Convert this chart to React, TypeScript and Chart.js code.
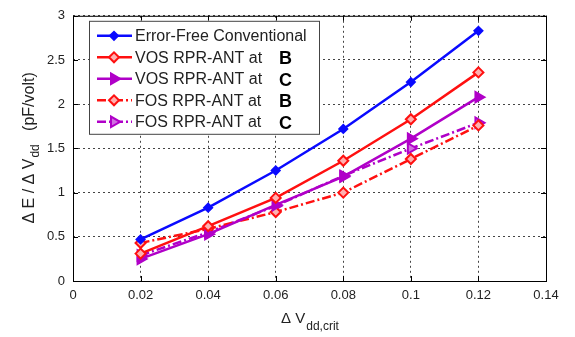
import React, { useEffect, useRef } from 'react';
import { Chart, registerables } from 'chart.js';
import { drawPoint } from 'chart.js/helpers';
Chart.register(...registerables);

const xValues = [0.02, 0.04, 0.06, 0.08, 0.1, 0.12];
const errorFree = [0.47, 0.83, 1.25, 1.72, 2.25, 2.83];
const vosB = [0.31, 0.62, 0.94, 1.36, 1.83, 2.36];
const vosC = [0.25, 0.53, 0.86, 1.18, 1.61, 2.08];
const fosB = [0.43, 0.59, 0.78, 1.0, 1.38, 1.76];
const fosC = [0.29, 0.55, 0.85, 1.19, 1.5, 1.79];
const seriesNames = ['Error-Free Conventional', 'VOS RPR-ANT at', 'VOS RPR-ANT at', 'FOS RPR-ANT at', 'FOS RPR-ANT at'];
const seriesTags = ['', 'B', 'C', 'B', 'C'];
const xTicks = [0, 0.02, 0.04, 0.06, 0.08, 0.1, 0.12, 0.14];
const yTicks = [0, 0.5, 1, 1.5, 2, 2.5, 3];

const FONT = '"Liberation Sans", Arial, sans-serif';
const BLUE = '#0a0aff';
const RED = '#ff1010';
const PURPLE = '#b000c8';
const DASHDOT = [9, 3, 2, 3];

const seriesValues = [errorFree, vosB, vosC, fosB, fosC];
const styles = [
  { color: BLUE, dash: [], point: 'rectRot', radius: 4, fill: BLUE, rot: 0 },
  { color: RED, dash: [], point: 'rectRot', radius: 5, fill: '#ffb0b0', rot: 0 },
  { color: PURPLE, dash: [], point: 'triangle', radius: 6, fill: PURPLE, rot: 90 },
  { color: RED, dash: DASHDOT, point: 'rectRot', radius: 5, fill: '#ffb0b0', rot: 0 },
  { color: PURPLE, dash: DASHDOT, point: 'triangle', radius: 6, fill: '#d070e0', rot: 90 },
];

const framePlugin = {
  id: 'frame',
  afterDatasetsDraw(chart: any) {
    const { ctx, chartArea: a } = chart;
    ctx.save();
    ctx.strokeStyle = '#000';
    ctx.lineWidth = 1;
    ctx.setLineDash([]);
    ctx.strokeRect(a.left + 0.5, a.top + 0.5, a.right - a.left, a.bottom - a.top);
    const xs = chart.scales.x;
    const ys = chart.scales.y;
    ctx.beginPath();
    xTicks.forEach((v) => {
      const px = Math.round(xs.getPixelForValue(v)) + 0.5;
      ctx.moveTo(px, a.bottom); ctx.lineTo(px, a.bottom - 5);
      ctx.moveTo(px, a.top); ctx.lineTo(px, a.top + 5);
    });
    yTicks.forEach((v) => {
      const py = Math.round(ys.getPixelForValue(v)) + 0.5;
      ctx.moveTo(a.left, py); ctx.lineTo(a.left + 5, py);
      ctx.moveTo(a.right, py); ctx.lineTo(a.right - 5, py);
    });
    ctx.stroke();

    // axis titles
    ctx.fillStyle = '#222';
    ctx.textBaseline = 'alphabetic';
    const main = 'Δ V';
    const sub = 'dd,crit';
    ctx.font = `15px ${FONT}`;
    const wm = ctx.measureText(main).width;
    ctx.font = `12px ${FONT}`;
    const ws = ctx.measureText(sub).width;
    const cx = (a.left + a.right) / 2;
    const sx = cx - (wm + ws) / 2;
    ctx.font = `15px ${FONT}`;
    ctx.textAlign = 'left';
    ctx.fillText(main, sx, a.bottom + 42);
    ctx.font = `12px ${FONT}`;
    ctx.fillText(sub, sx + wm + 1, a.bottom + 49);

    ctx.save();
    ctx.translate(a.left - 44, (a.top + a.bottom) / 2);
    ctx.rotate(-Math.PI / 2);
    const p1 = 'Δ E / Δ V';
    const p2 = 'dd';
    const p3 = '   (pF/volt)';
    ctx.font = `16px ${FONT}`;
    const w1 = ctx.measureText(p1).width;
    const w3 = ctx.measureText(p3).width;
    ctx.font = `12px ${FONT}`;
    const w2 = ctx.measureText(p2).width;
    const tx = -(w1 + w2 + w3) / 2;
    ctx.font = `16px ${FONT}`;
    ctx.fillText(p1, tx, 5);
    ctx.font = `12px ${FONT}`;
    ctx.fillText(p2, tx + w1 + 1, 10);
    ctx.font = `16px ${FONT}`;
    ctx.fillText(p3, tx + w1 + w2 + 1, 5);
    ctx.restore();

    // legend
    const lx = a.left + 16;
    const ly = a.top + 5;
    const lw = 230;
    const lh = 113;
    ctx.fillStyle = '#fff';
    ctx.fillRect(lx, ly, lw, lh);
    ctx.strokeStyle = '#444';
    ctx.lineWidth = 1;
    ctx.strokeRect(lx + 0.5, ly + 0.5, lw, lh);
    seriesNames.forEach((name, i) => {
      const st = styles[i];
      const y = ly + 15 + i * 21.5;
      ctx.strokeStyle = st.color;
      ctx.lineWidth = 2.5;
      ctx.setLineDash(st.dash);
      ctx.beginPath();
      ctx.moveTo(lx + 8, y);
      ctx.lineTo(lx + 43, y);
      ctx.stroke();
      ctx.setLineDash([]);
      ctx.fillStyle = st.fill;
      ctx.lineWidth = 2;
      drawPoint(ctx, { pointStyle: st.point, rotation: st.rot, radius: st.radius, borderWidth: 2 } as any, lx + 25, y);
      ctx.fillStyle = '#222';
      ctx.font = `16px ${FONT}`;
      ctx.textAlign = 'left';
      ctx.textBaseline = 'middle';
      ctx.fillText(name, lx + 46, y + 1);
      if (seriesTags[i]) {
        ctx.fillStyle = '#000';
        ctx.font = `bold 18px ${FONT}`;
        ctx.fillText(seriesTags[i], lx + 190, y + 2);
      }
    });
    ctx.restore();
  },
};

export default function App() {
  const ref = useRef<HTMLCanvasElement>(null);
  useEffect(() => {
    if (!ref.current) return;
    const datasets = seriesValues.map((vals, i) => {
      const st = styles[i];
      return {
        label: seriesNames[i] + (seriesTags[i] ? ' ' + seriesTags[i] : ''),
        data: xValues.map((x, j) => ({ x, y: vals[j] })),
        borderColor: st.color,
        backgroundColor: st.fill,
        borderWidth: 2.5,
        borderDash: st.dash,
        pointStyle: st.point,
        pointRotation: st.rot,
        pointRadius: st.radius,
        pointBorderWidth: 2,
        pointBorderColor: st.color,
        pointBackgroundColor: st.fill,
        tension: 0,
        fill: false,
      };
    });
    const chart = new Chart(ref.current, {
      type: 'line',
      data: { datasets: datasets as any },
      options: {
        animation: false,
        responsive: false,
        maintainAspectRatio: false,
        layout: { padding: { left: 0, right: 29, top: 10, bottom: 0 } },
        plugins: { legend: { display: false }, tooltip: { enabled: false } },
        scales: {
          x: {
            type: 'linear',
            min: 0,
            max: 0.14,
            afterBuildTicks: (s: any) => { s.ticks = xTicks.map((v) => ({ value: v })); },
            afterFit: (s: any) => { s.height = 56; },
            ticks: {
              padding: 7,
              color: '#222',
              font: { family: FONT, size: 13 },
              maxRotation: 0,
              callback: (v: any) => String(Number(Number(v).toFixed(2))),
            },
            grid: { color: '#444', lineWidth: 1, drawTicks: false },
            border: { display: false, dash: [2, 3] },
          },
          y: {
            type: 'linear',
            min: 0,
            max: 3,
            afterBuildTicks: (s: any) => { s.ticks = yTicks.map((v) => ({ value: v })); },
            afterFit: (s: any) => { s.width = 73; },
            ticks: {
              padding: 8,
              color: '#222',
              font: { family: FONT, size: 13 },
              callback: (v: any) => String(Number(Number(v).toFixed(2))),
            },
            grid: { color: '#444', lineWidth: 1, drawTicks: false },
            border: { display: false, dash: [2, 3] },
          },
        },
      },
      plugins: [framePlugin],
    });
    return () => chart.destroy();
  }, []);
  return (
    <div style={{ position: 'absolute', left: 0, top: 0, width: 575, height: 337, background: '#fff' }}>
      <canvas ref={ref} width={575} height={337} style={{ display: 'block' }} />
    </div>
  );
}
